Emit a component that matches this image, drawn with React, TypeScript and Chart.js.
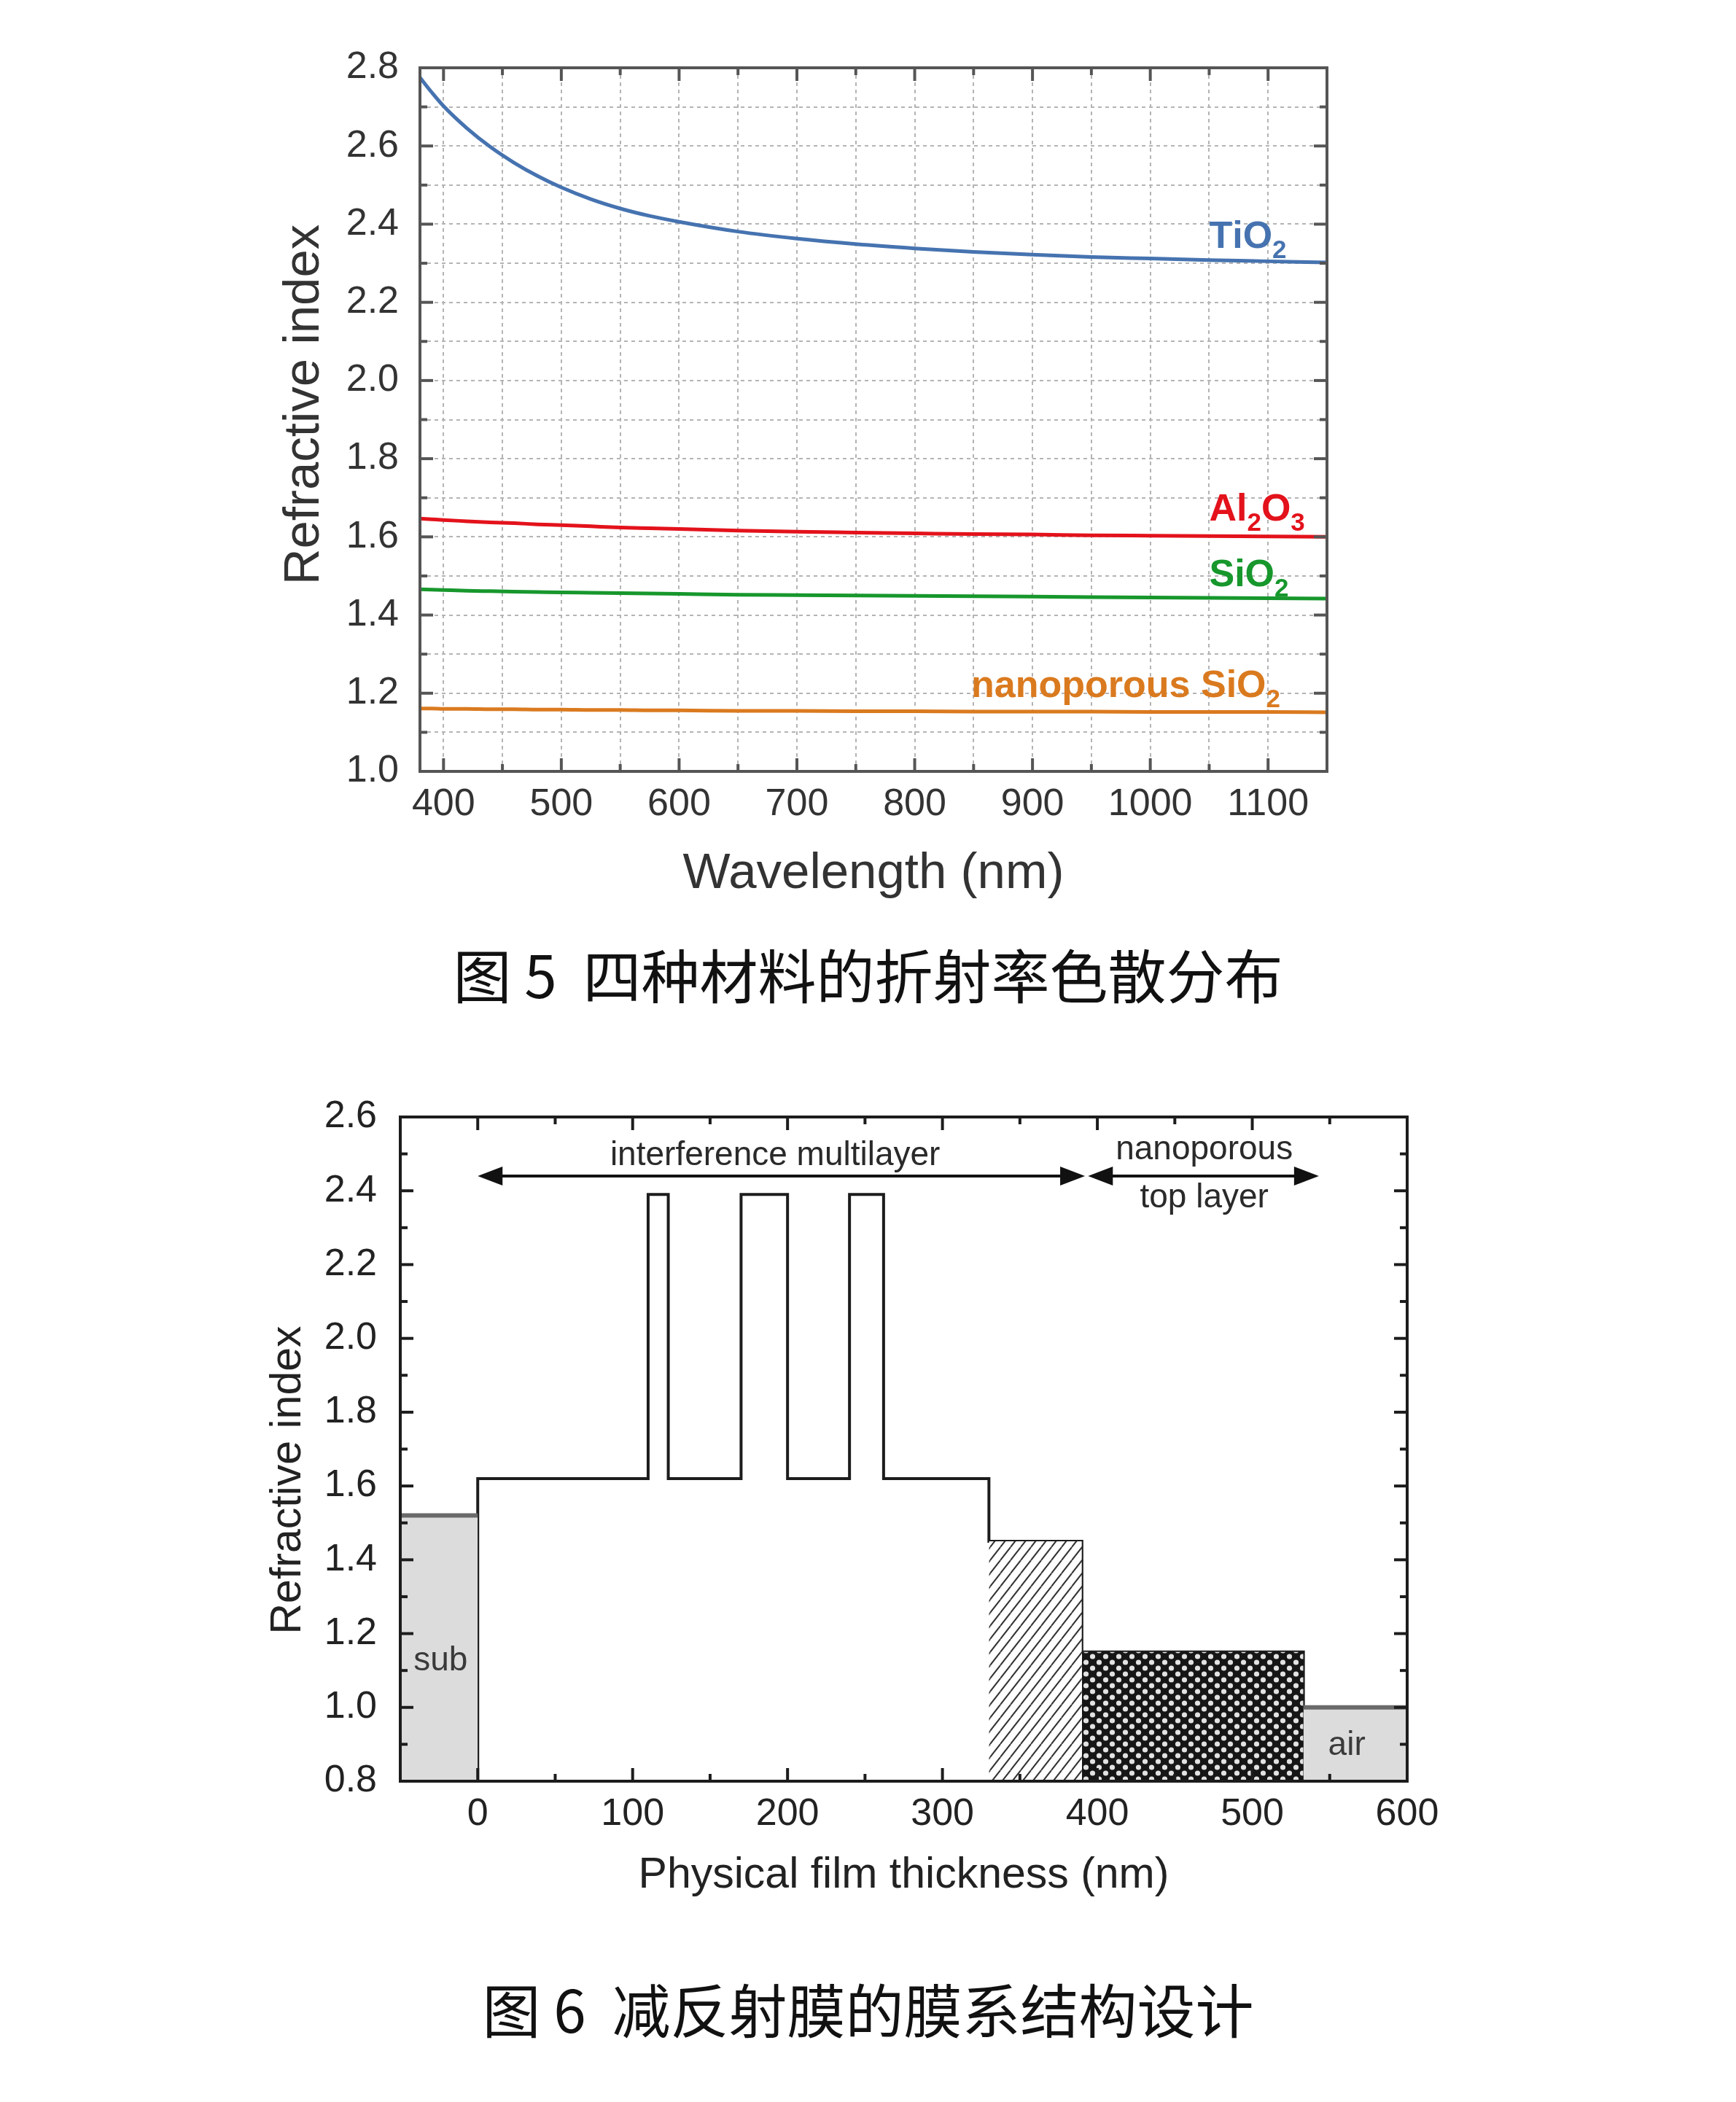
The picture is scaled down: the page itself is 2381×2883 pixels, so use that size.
import React, { useEffect, useRef } from 'react';
import { Chart, registerables } from 'chart.js';

Chart.register(...registerables);

// ---------- Figure 5 data ----------
const wavelengths = [380, 390, 400, 420, 440, 460, 480, 500, 525, 550, 575, 600, 650, 700, 750, 800, 850, 900, 950, 1000, 1050, 1100, 1150];
const tio2 = [2.775, 2.737, 2.702, 2.645, 2.597, 2.557, 2.523, 2.494, 2.464, 2.44, 2.421, 2.406, 2.381, 2.363, 2.349, 2.338, 2.329, 2.322, 2.316, 2.312, 2.308, 2.305, 2.302];
const al2o3 = [1.647, 1.645, 1.643, 1.64, 1.637, 1.635, 1.632, 1.63, 1.627, 1.624, 1.622, 1.62, 1.616, 1.613, 1.611, 1.609, 1.607, 1.606, 1.604, 1.603, 1.602, 1.601, 1.6];
const sio2 = [1.466, 1.465, 1.464, 1.462, 1.461, 1.46, 1.459, 1.458, 1.457, 1.456, 1.455, 1.454, 1.452, 1.451, 1.45, 1.449, 1.448, 1.447, 1.446, 1.445, 1.444, 1.443, 1.442];
const nanoSio2 = [1.161, 1.161, 1.16, 1.16, 1.159, 1.159, 1.158, 1.158, 1.157, 1.157, 1.156, 1.156, 1.155, 1.155, 1.154, 1.154, 1.153, 1.153, 1.153, 1.152, 1.152, 1.152, 1.151];
const seriesNames = ['TiO2', 'Al2O3', 'SiO2', 'nanoporous SiO2'];
const fig5XLabels = [400, 500, 600, 700, 800, 900, 1000, 1100];
const fig5XMinor = [450, 550, 650, 750, 850, 950, 1050];
const fig5XGrid = [400, 450, 500, 550, 600, 650, 700, 750, 800, 850, 900, 950, 1000, 1050, 1100];
const fig5YLabels = [1.0, 1.2, 1.4, 1.6, 1.8, 2.0, 2.2, 2.4, 2.6, 2.8];
const fig5YMinor = [1.1, 1.3, 1.5, 1.7, 1.9, 2.1, 2.3, 2.5, 2.7];
const fig5YGrid = [1.1, 1.2, 1.3, 1.4, 1.5, 1.6, 1.7, 1.8, 1.9, 2.0, 2.1, 2.2, 2.3, 2.4, 2.5, 2.6, 2.7];
// label anchors (wavelength, index)
const labelX = [1050, 1050, 1050, 848];
const labelY = [2.339, 1.642, 1.474, 1.19];

// ---------- Figure 6 data ----------
const layerEdges = [0, 110, 123, 170, 200, 240, 262, 330, 390, 533];
const layerIndices = [1.62, 2.39, 1.62, 2.39, 1.62, 2.39, 1.62, 1.45, 1.15];
const substrateIndex = 1.52;
const airIndex = 1.0;
const thicknessMin = -50;
const thicknessMax = 600;
const fig6XLabels = [0, 100, 200, 300, 400, 500, 600];
const fig6XMinor = [50, 150, 250, 350, 450, 550];
const fig6YLabels = [0.8, 1.0, 1.2, 1.4, 1.6, 1.8, 2.0, 2.2, 2.4, 2.6];
const fig6YMinor = [0.9, 1.1, 1.3, 1.5, 1.7, 1.9, 2.1, 2.3, 2.5];
const arrowSpans = [[0, 392], [394, 543]];
const arrowLevel = 2.44;

const FONT = '"Liberation Sans", Arial, sans-serif';
const COLORS = ['#4673b0', '#e3121b', '#17972c', '#da7a1f'];

function drawFormula(ctx: CanvasRenderingContext2D, text: string, x: number, y: number, color: string) {
  ctx.fillStyle = color;
  ctx.textBaseline = 'alphabetic';
  ctx.textAlign = 'left';
  let cx = x;
  for (const ch of text) {
    const sub = /[0-9]/.test(ch);
    ctx.font = `bold ${sub ? 35 : 52}px ${FONT}`;
    ctx.fillText(ch, cx, y + (sub ? 14 : 0));
    cx += ctx.measureText(ch).width;
  }
}

function yTitlePlugin(text: string, cx: number, cy: number, size: number, color: string) {
  return {
    id: 'yTitle',
    afterDraw(chart: any) {
      const { ctx } = chart;
      ctx.save();
      ctx.translate(cx, cy);
      ctx.rotate(-Math.PI / 2);
      ctx.font = `${size}px ${FONT}`;
      ctx.fillStyle = color;
      ctx.textAlign = 'center';
      ctx.textBaseline = 'middle';
      ctx.fillText(text, 0, 0);
      ctx.restore();
    },
  };
}

function framePlugin(cfg: any) {
  return {
    id: 'frameTicks',
    beforeDatasetsDraw(chart: any) {
      const { ctx, chartArea: a, scales } = chart;
      if (!cfg.gridX) return;
      ctx.save();
      ctx.strokeStyle = cfg.gridColor;
      ctx.lineWidth = 2;
      ctx.setLineDash([5, 5]);
      for (const v of cfg.gridX) {
        const x = Math.round(scales.x.getPixelForValue(v));
        ctx.beginPath(); ctx.moveTo(x, a.top); ctx.lineTo(x, a.bottom); ctx.stroke();
      }
      for (const v of cfg.gridY) {
        const y = Math.round(scales.y.getPixelForValue(v));
        ctx.beginPath(); ctx.moveTo(a.left, y); ctx.lineTo(a.right, y); ctx.stroke();
      }
      ctx.restore();
    },
    afterDatasetsDraw(chart: any) {
      const { ctx, chartArea: a, scales } = chart;
      ctx.save();
      ctx.strokeStyle = cfg.color;
      ctx.lineWidth = cfg.width;
      ctx.setLineDash([]);
      const tickX = (v: number, len: number) => {
        const x = scales.x.getPixelForValue(v);
        ctx.beginPath(); ctx.moveTo(x, a.bottom); ctx.lineTo(x, a.bottom - len); ctx.stroke();
        ctx.beginPath(); ctx.moveTo(x, a.top); ctx.lineTo(x, a.top + len); ctx.stroke();
      };
      const tickY = (v: number, len: number) => {
        const y = scales.y.getPixelForValue(v);
        ctx.beginPath(); ctx.moveTo(a.left, y); ctx.lineTo(a.left + len, y); ctx.stroke();
        ctx.beginPath(); ctx.moveTo(a.right, y); ctx.lineTo(a.right - len, y); ctx.stroke();
      };
      cfg.xMajor.forEach((v: number) => tickX(v, 18));
      cfg.xMinor.forEach((v: number) => tickX(v, 10));
      cfg.yMajor.forEach((v: number) => tickY(v, 18));
      cfg.yMinor.forEach((v: number) => tickY(v, 10));
      ctx.strokeRect(a.left, a.top, a.right - a.left, a.bottom - a.top);
      ctx.restore();
    },
  };
}

function buildFig5() {
  const series = [tio2, al2o3, sio2, nanoSio2];
  const labelPlugin = {
    id: 'seriesLabels',
    afterDatasetsDraw(chart: any) {
      const { ctx, scales } = chart;
      ctx.save();
      seriesNames.forEach((name, i) => {
        drawFormula(ctx, name, scales.x.getPixelForValue(labelX[i]), scales.y.getPixelForValue(labelY[i]), COLORS[i]);
      });
      ctx.restore();
    },
  };
  return {
    type: 'line',
    data: {
      datasets: series.map((vals, i) => ({
        label: seriesNames[i],
        data: wavelengths.map((w, j) => ({ x: w, y: vals[j] })),
        borderColor: COLORS[i],
        borderWidth: 5,
        pointRadius: 0,
        fill: false,
        cubicInterpolationMode: 'monotone',
      })),
    },
    options: {
      animation: false,
      responsive: false,
      devicePixelRatio: 1,
      layout: { padding: { left: 378, top: 93, right: 561, bottom: 0 } },
      plugins: { legend: { display: false }, tooltip: { enabled: false } },
      scales: {
        x: {
          type: 'linear', min: 380, max: 1150,
          grid: { display: false }, border: { display: false },
          afterBuildTicks: (ax: any) => { ax.ticks = fig5XLabels.map((v) => ({ value: v })); },
          ticks: { font: { family: FONT, size: 52 }, color: '#333', padding: 6, maxRotation: 0, autoSkip: false, callback: (v: any) => String(v) },
          title: { display: true, text: 'Wavelength (nm)', font: { family: FONT, size: 69 }, color: '#333', padding: { top: 0, bottom: 20 } },
          afterFit: (s: any) => { s.height = 202; },
        },
        y: {
          type: 'linear', min: 1.0, max: 2.8,
          grid: { display: false }, border: { display: false },
          afterBuildTicks: (ax: any) => { ax.ticks = fig5YLabels.map((v) => ({ value: v })); },
          ticks: { font: { family: FONT, size: 52 }, color: '#333', padding: 21, autoSkip: false, callback: (v: any) => Number(v).toFixed(1) },
          title: { display: false, text: 'Refractive index' },
          afterFit: (s: any) => { s.width = 198; },
        },
      },
    },
    plugins: [
      framePlugin({ xMajor: fig5XLabels, xMinor: fig5XMinor, yMajor: fig5YLabels, yMinor: fig5YMinor, color: '#555', width: 4, gridX: fig5XGrid, gridY: fig5YGrid, gridColor: '#b4b4b4' }),
      labelPlugin,
      yTitlePlugin('Refractive index', 418, 555, 69, '#333'),
    ],
  };
}

function makeHatch() {
  const w = 14, h = 18;
  const c = document.createElement('canvas');
  c.width = w; c.height = h;
  const g = c.getContext('2d')!;
  g.fillStyle = '#fff'; g.fillRect(0, 0, w, h);
  g.strokeStyle = '#333'; g.lineWidth = 2;
  for (const off of [-w, 0, w]) {
    g.beginPath(); g.moveTo(off, h); g.lineTo(off + w, 0); g.stroke();
  }
  return g.createPattern(c, 'repeat');
}

function makeDots() {
  const w = 18, h = 16;
  const c = document.createElement('canvas');
  c.width = w; c.height = h;
  const g = c.getContext('2d')!;
  g.fillStyle = '#161616'; g.fillRect(0, 0, w, h);
  g.fillStyle = '#e2e2e2';
  for (const [x, y] of [[4.5, 4], [13.5, 12]]) {
    g.beginPath(); g.arc(x, y, 3.6, 0, Math.PI * 2); g.fill();
  }
  return g.createPattern(c, 'repeat');
}

function buildFig6() {
  const yMin = fig6YLabels[0];
  const profile: { x: number; y: number }[] = [{ x: layerEdges[0], y: yMin }];
  layerIndices.forEach((n, i) => {
    profile.push({ x: layerEdges[i], y: n });
    profile.push({ x: layerEdges[i + 1], y: n });
  });
  profile.push({ x: layerEdges[layerEdges.length - 1], y: yMin });
  const hatchIdx = 7;
  const dotIdx = 8;
  const annot = {
    id: 'annot',
    afterDatasetsDraw(chart: any) {
      const { ctx, scales } = chart;
      const px = (v: number) => scales.x.getPixelForValue(v);
      const py = (v: number) => scales.y.getPixelForValue(v);
      ctx.save();
      ctx.fillStyle = '#2a2a2a';
      ctx.font = `46px ${FONT}`;
      ctx.textAlign = 'center';
      ctx.textBaseline = 'alphabetic';
      ctx.fillText('interference multilayer', px(192), py(2.47));
      ctx.fillText('nanoporous', px(469), py(2.485));
      ctx.fillText('top layer', px(469), py(2.355));
      ctx.textBaseline = 'middle';
      ctx.fillStyle = '#3a3a3a';
      ctx.fillText('sub', px(-24), py(1.125));
      ctx.fillText('air', px(561), py(0.896));
      const y = py(arrowLevel);
      ctx.strokeStyle = '#111';
      ctx.fillStyle = '#111';
      ctx.lineWidth = 4;
      const head = (tip: number, dir: number) => {
        ctx.beginPath();
        ctx.moveTo(tip, y);
        ctx.lineTo(tip - dir * 34, y - 13);
        ctx.lineTo(tip - dir * 34, y + 13);
        ctx.closePath();
        ctx.fill();
      };
      for (const [a, b] of arrowSpans) {
        const x1 = px(a), x2 = px(b);
        ctx.beginPath(); ctx.moveTo(x1 + 10, y); ctx.lineTo(x2 - 10, y); ctx.stroke();
        head(x1, -1);
        head(x2, 1);
      }
      ctx.restore();
    },
  };
  return {
    type: 'line',
    data: {
      datasets: [
        {
          label: 'sub',
          data: [{ x: thicknessMin, y: substrateIndex }, { x: layerEdges[0], y: substrateIndex }],
          borderColor: '#6a6a6a', borderWidth: 6, backgroundColor: '#dcdcdc', fill: 'start', pointRadius: 0,
        },
        {
          label: 'air',
          data: [{ x: layerEdges[layerEdges.length - 1], y: airIndex }, { x: thicknessMax, y: airIndex }],
          borderColor: '#6a6a6a', borderWidth: 6, backgroundColor: '#dcdcdc', fill: 'start', pointRadius: 0,
        },
        {
          label: 'hatch',
          data: [{ x: layerEdges[hatchIdx], y: layerIndices[hatchIdx] }, { x: layerEdges[hatchIdx + 1], y: layerIndices[hatchIdx] }],
          borderWidth: 0, borderColor: 'rgba(0,0,0,0)', backgroundColor: makeHatch(), fill: 'start', pointRadius: 0,
        },
        {
          label: 'dots',
          data: [{ x: layerEdges[dotIdx], y: layerIndices[dotIdx] }, { x: layerEdges[dotIdx + 1], y: layerIndices[dotIdx] }],
          borderWidth: 0, borderColor: 'rgba(0,0,0,0)', backgroundColor: makeDots(), fill: 'start', pointRadius: 0,
        },
        {
          label: 'profile',
          data: profile,
          borderColor: '#1c1c1c', borderWidth: 4, fill: false, pointRadius: 0, tension: 0,
          borderJoinStyle: 'miter',
        },
      ],
    },
    options: {
      animation: false,
      responsive: false,
      devicePixelRatio: 1,
      layout: { padding: { left: 361, top: 112, right: 451, bottom: 0 } },
      plugins: { legend: { display: false }, tooltip: { enabled: false } },
      scales: {
        x: {
          type: 'linear', min: thicknessMin, max: thicknessMax,
          grid: { display: false }, border: { display: false },
          afterBuildTicks: (ax: any) => { ax.ticks = fig6XLabels.map((v) => ({ value: v })); },
          ticks: { font: { family: FONT, size: 52 }, color: '#222', padding: 6, maxRotation: 0, autoSkip: false, callback: (v: any) => String(v) },
          title: { display: true, text: 'Physical film thickness (nm)', font: { family: FONT, size: 59 }, color: '#222', padding: { top: 0, bottom: 42 } },
          afterFit: (s: any) => { s.height = 207; },
        },
        y: {
          type: 'linear', min: 0.8, max: 2.6,
          grid: { display: false }, border: { display: false },
          afterBuildTicks: (ax: any) => { ax.ticks = fig6YLabels.map((v) => ({ value: v })); },
          ticks: { font: { family: FONT, size: 52 }, color: '#222', padding: 24, autoSkip: false, callback: (v: any) => Number(v).toFixed(1) },
          title: { display: false, text: 'Refractive index' },
          afterFit: (s: any) => { s.width = 188; },
        },
      },
    },
    plugins: [
      framePlugin({ xMajor: fig6XLabels, xMinor: fig6XMinor, yMajor: fig6YLabels, yMinor: fig6YMinor, color: '#1c1c1c', width: 4 }),
      annot,
      yTitlePlugin('Refractive index', 396, 610, 59, '#222'),
    ],
  };
}

function ChartBox({ top, height, build }: { top: number; height: number; build: () => any }) {
  const ref = useRef<HTMLCanvasElement>(null);
  useEffect(() => {
    const chart = new Chart(ref.current as HTMLCanvasElement, build());
    return () => chart.destroy();
  }, []);
  return (
    <div style={{ position: 'absolute', left: 0, top, width: 2381, height }}>
      <canvas ref={ref} width={2381} height={height} style={{ width: 2381, height, display: 'block' }} />
    </div>
  );
}

const captionStyle: React.CSSProperties = {
  position: 'absolute',
  left: 0,
  width: 2381,
  textAlign: 'center',
  fontFamily: '"Noto Sans CJK SC", sans-serif',
  fontSize: 80,
  lineHeight: '100px',
  color: '#111',
  whiteSpace: 'pre',
};

export default function App() {
  return (
    <div style={{ position: 'absolute', left: 0, top: 0, width: 2381, height: 2883, background: '#fff', overflow: 'hidden' }}>
      <ChartBox top={0} height={1260} build={buildFig5} />
      <div style={{ ...captionStyle, top: 1284 }}>{'图 5  四种材料的折射率色散分布'}</div>
      <ChartBox top={1420} height={1230} build={buildFig6} />
      <div style={{ ...captionStyle, top: 2703 }}>{'图 6  减反射膜的膜系结构设计'}</div>
    </div>
  );
}
